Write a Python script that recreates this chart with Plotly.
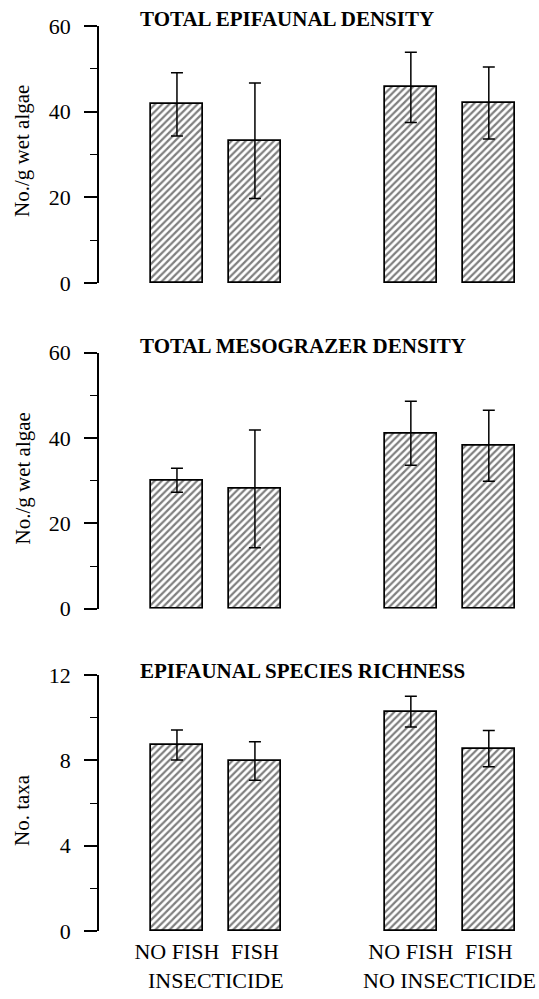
import plotly.graph_objects as go

# ---- data ----
treatments = ["NO FISH", "FISH", "NO FISH", "FISH"]
groups = ["INSECTICIDE", "NO INSECTICIDE"]
panel_titles = ["TOTAL EPIFAUNAL DENSITY", "TOTAL MESOGRAZER DENSITY", "EPIFAUNAL SPECIES RICHNESS"]
y_titles = ["No./g wet algae", "No./g wet algae", "No. taxa"]

epifauna_mean = [41.7, 33.2, 45.7, 42.0]
epifauna_se = [7.4, 13.5, 8.2, 8.4]
mesograzer_mean = [30.1, 28.1, 41.1, 38.2]
mesograzer_se = [2.8, 13.8, 7.5, 8.3]
richness_mean = [8.72, 7.97, 10.28, 8.55]
richness_se = [0.70, 0.90, 0.72, 0.85]

y_ranges = [[0, 60], [0, 60], [0, 12]]
y_dticks = [20, 20, 4]
y_minor = [10, 10, 2]

# ---- layout geometry ----
W, H = 539, 999
L, R, T, B = 99, 19, 26, 68
PH = H - T - B
positions = [0, 1, 3, 4]
group_pos = [0.5, 3.5]

def py(px):
    return (H - B - px) / PH

def px_x(px):
    return (px - L) / (W - L - R)

domains = [[py(283), py(26)], [py(608.7), py(352.7)], [0, py(675)]]
title_y = [19.5, 345.5, 670.5]
ytitle_y = [151, 478.5, 810]

serif = "Liberation Serif, Times New Roman, serif"
means = [epifauna_mean, mesograzer_mean, richness_mean]
ses = [epifauna_se, mesograzer_se, richness_se]

fig = go.Figure()
for i in range(3):
    sfx = "" if i == 0 else str(i + 1)
    fig.add_trace(go.Bar(
        x=positions, y=means[i],
        xaxis="x" + sfx, yaxis="y" + sfx,
        width=0.667,
        marker=dict(color="white",
                    line=dict(color="black", width=1.7),
                    pattern=dict(shape="/", size=5, solidity=0.45,
                                 fgcolor="black", bgcolor="white")),
        error_y=dict(type="data", array=ses[i], visible=True,
                     color="black", thickness=1.5, width=6),
        showlegend=False,
    ))

layout = dict(
    width=W, height=H,
    margin=dict(l=L, r=R, t=T, b=B),
    paper_bgcolor="white", plot_bgcolor="white",
    font=dict(family=serif, color="black", size=21),
    bargap=0,
)
annotations = []
for i in range(3):
    sfx = "" if i == 0 else str(i + 1)
    layout["xaxis" + sfx] = dict(
        range=[-1, 4.4], domain=[0, 1], anchor="y" + sfx,
        showgrid=False, zeroline=False, showline=False,
        ticks="", showticklabels=(i == 2),
        tickvals=positions if i == 2 else None,
        ticktext=treatments if i == 2 else None,
        tickfont=dict(family=serif, size=22, color="black"),
        ticklabelstandoff=5,
        fixedrange=True,
    )
    layout["yaxis" + sfx] = dict(
        range=y_ranges[i], domain=domains[i], anchor="x" + sfx,
        showgrid=False, zeroline=False,
        showline=True, linecolor="black", linewidth=1.5,
        ticks="outside", ticklen=13, tickwidth=1.5, tickcolor="black",
        dtick=y_dticks[i], tick0=0,
        minor=dict(dtick=y_minor[i], ticks="outside", ticklen=7,
                   tickwidth=1.2, tickcolor="black", showgrid=False),
        tickfont=dict(family=serif, size=22, color="black"),
        ticklabelstandoff=9,
    )
    annotations.append(dict(
        text="<b>" + panel_titles[i] + "</b>", xref="paper", yref="paper",
        x=px_x(138), y=py(title_y[i]), xanchor="left", yanchor="middle",
        showarrow=False, font=dict(family=serif, size=21, color="black"),
    ))
    annotations.append(dict(
        text=y_titles[i], xref="paper", yref="paper", textangle=-90,
        x=px_x(22), y=py(ytitle_y[i]), xanchor="center", yanchor="middle",
        showarrow=False, font=dict(family=serif, size=21, color="black"),
    ))
for g, gp in zip(groups, group_pos):
    annotations.append(dict(
        text=g, xref="x3", yref="paper", x=gp, y=py(980),
        xanchor="center", yanchor="middle", showarrow=False,
        font=dict(family=serif, size=22, color="black"),
    ))
layout["annotations"] = annotations
fig.update_layout(**layout)
fig.write_html("out.html",
               config={"displayModeBar": False},
               post_script="document.body.style.margin='0';document.body.style.padding='0';")
